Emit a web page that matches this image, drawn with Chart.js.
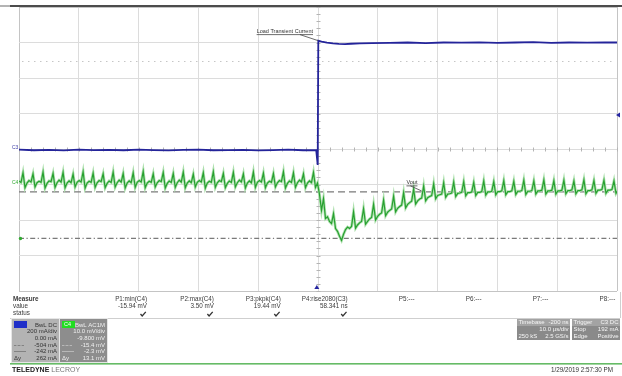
<!DOCTYPE html>
<html>
<head>
<meta charset="utf-8">
<script src="https://cdn.jsdelivr.net/npm/chart.js@4/dist/chart.umd.min.js"></script>
<style>
  html, body { margin: 0; padding: 0; background: #fff; overflow: hidden; }
  #wrap { width: 622px; height: 376px; position: relative; }
  canvas { display: block; }
</style>
</head>
<body>
<div id="wrap"><canvas id="scope" width="622" height="376"></canvas></div>
<script>
// ---- Channel C3: load current (mA) vs time (us) ----
const loadTimeUs = [-50, -47.5, -45, -42.5, -40, -37.5, -35, -32.5, -30, -27.5, -25, -22.5, -20, -17.5, -15, -12.5, -10, -7.5, -5, -2.5, -0.3, -0.05,
                    0.05, 0.6, 1.5, 2.5, 3.5, 4.5, 5.5, 7, 9, 12, 15, 18, 21, 24, 27, 30, 33, 36, 39, 42, 45, 48, 50];
const loadCurrentmA = [-4, -7, -5, -8, -3, -6, -5, -7, -4, -6, -8, -5, -4, -7, -6, -5, -8, -6, -4, -7, -6, -90,
                       610, 605, 599, 595, 592, 591, 593, 595, 597, 598, 600, 597, 600, 599, 601, 598, 600, 602, 598, 600, 599, 601, 600];

// ---- Channel C4: output voltage ripple (mV), one sample every SAMPLE_US, starting at -50 us ----
const SAMPLE_US = 0.335;
const vOutmV = [
   0.8,  0.4, 3.1, -1.1,  0.2,
   0.9,  0.5, 2.8, -0.9,  0.3,
   0.7,  0.4, 3.3, -1.2,  0.1,
   0.8,  0.6, 2.9, -1.0,  0.3,
   1.0,  0.5, 3.2, -1.1,  0.2,
   0.8,  0.3, 2.7, -0.9,  0.4,
   0.9,  0.5, 3.4, -1.2,  0.2,
   0.7,  0.4, 3.0, -1.0,  0.3,
   0.9,  0.6, 2.8, -1.1,  0.1,
   0.8,  0.4, 3.3, -0.9,  0.3,
   1.0,  0.5, 2.9, -1.2,  0.2,
   0.8,  0.3, 3.1, -1.0,  0.4,
   0.9,  0.5, 3.5, -1.1,  0.2,
   0.7,  0.4, 2.8, -0.9,  0.3,
   0.9,  0.6, 3.2, -1.2,  0.1,
   0.8,  0.4, 2.9, -1.0,  0.3,
   1.0,  0.5, 3.3, -1.1,  0.2,
   0.8,  0.3, 2.7, -0.9,  0.4,
   0.9,  0.5, 3.1, -1.2,  0.2,
   0.7,  0.4, 3.4, -1.0,  0.3,
   0.9,  0.6, 2.9, -1.1,  0.1,
   0.8,  0.4, 3.2, -0.9,  0.3,
   1.0,  0.5, 2.8, -1.2,  0.2,
   0.8,  0.3, 3.3, -1.0,  0.4,
   0.9,  0.5, 3.0, -1.1,  0.2,
   0.7,  0.4, 2.9, -0.9,  0.3,
   0.9,  0.6, 3.4, -1.2,  0.1,
   0.8,  0.4, 3.1, -1.0,  0.3,
   1.0,  0.5, 2.8, -1.1,  0.2,
   0.8,  0.3, 3.2, -1.0,  0.2,
  -3.0, -7.5, -4.2, -9.8, -9.3,
 -10.6, -11.2, -8.4, -12.6, -13.4,
 -14.8, -15.94, -14.2, -12.9, -12.2,
 -12.6, -12.0, -7.9, -12.5, -11.6,
 -11.0, -10.6, -7.0, -11.4, -10.6,
  -9.9, -9.5, -5.8, -10.2, -9.2,
  -8.6, -8.2, -4.6, -9.0, -8.0,
  -7.5, -7.1, -3.5, -7.9, -6.9,
  -6.4, -6.0, -2.5, -6.8, -5.8,
  -5.3, -4.9, -1.5, -5.7, -4.8,
  -4.3, -4.0, -0.6, -4.8, -3.9,
  -3.6, -3.3,  0.0, -4.2, -3.3,
  -3.1, -2.9,  0.3, -3.8, -2.9,
  -2.8, -2.6,  0.5, -3.6, -2.7,
  -2.6, -2.4,  0.6, -3.4, -2.5,
  -2.5, -2.3,  0.4, -3.3, -2.4,
  -2.4, -2.2,  0.8, -3.2, -2.3,
  -2.3, -2.1,  0.6, -3.1, -2.2,
  -2.2, -2.0,  0.9, -3.1, -2.2,
  -2.2, -2.0,  0.7, -3.0, -2.1,
  -2.1, -1.9,  1.0, -3.0, -2.1,
  -2.1, -1.9,  0.8, -2.9, -2.0,
  -2.0, -1.8,  1.1, -2.9, -2.0,
  -2.0, -1.8,  0.9, -2.9, -2.0,
  -2.0, -1.8,  1.0, -2.8, -1.9,
  -1.9, -1.7,  0.8, -2.8, -1.9,
  -1.9, -1.7,  1.1, -2.8, -1.9,
  -1.9, -1.7,  0.9, -2.7, -1.8,
  -1.8, -1.6,  1.0, -2.7, -1.8,
  -1.8, -1.6,  0.8, -2.7, -1.8
];
const vOutTimeUs = vOutmV.map((_, i) => -50 + i * SAMPLE_US);

// ---- Vertical settings ----
const C3_MA_PER_DIV = 200;
const C4_MV_PER_DIV = 10;
const C4_CENTER_MV = 9.8;         // screen centre of C4 (offset -9.800 mV)
const cursorLevelsmA = [-504, -242];
const triggerLevelmA = 192;
const triggerTimeUs = -0.2;
const refLevelmA = 496;

// ---- Measurement readouts ----
const measureLabels = ['P1:min(C4)', 'P2:max(C4)', 'P3:pkpk(C4)', 'P4:rise2080(C3)', 'P5:---', 'P6:---', 'P7:---', 'P8:---'];
const measureValues = ['-15.94 mV', '3.50 mV', '19.44 mV', '58.341 ns', '', '', '', ''];
const measureStatus = [true, true, true, true, false, false, false, false];
const c3Info = ['BwL DC', '200 mA/div', '0.00 mA', '-504 mA', '-242 mA', '262 mA'];
const c4Info = ['BwL AC1M', '10.0 mV/div', '-9.800 mV', '-15.4 mV', '-2.3 mV', '13.1 mV'];

const toXY = (xs, ys) => xs.map((t, i) => ({ x: t, y: ys[i] }));
const FONT = '"Liberation Sans", Arial, sans-serif';

function line(ctx, x1, y1, x2, y2) {
  ctx.beginPath(); ctx.moveTo(x1, y1); ctx.lineTo(x2, y2); ctx.stroke();
}
function check(ctx, cx, cy) {
  ctx.save();
  ctx.strokeStyle = '#333'; ctx.lineWidth = 1.3;
  ctx.beginPath(); ctx.moveTo(cx - 2.5, cy); ctx.lineTo(cx - 0.8, cy + 2); ctx.lineTo(cx + 2.8, cy - 2.2); ctx.stroke();
  ctx.restore();
}

const scopeOverlay = {
  id: 'scopeOverlay',
  beforeDatasetsDraw(chart) {
    const { ctx, chartArea: a, scales: { x, yI } } = chart;
    ctx.save();
    ctx.lineWidth = 1;
    // faint dotted reference level
    ctx.strokeStyle = '#c6c6c6';
    ctx.setLineDash([1.5, 4.5]);
    const yr = Math.round(yI.getPixelForValue(refLevelmA)) + 0.5;
    line(ctx, a.left + 3, yr, a.right - 3, yr);
    ctx.setLineDash([]);
    // minor ticks along the centre axes
    ctx.strokeStyle = '#b4b4b4';
    const y0 = Math.round(yI.getPixelForValue(0)) + 0.5;
    const x0 = Math.round(x.getPixelForValue(0)) + 0.5;
    for (let t = -50; t <= 50; t += 2) {
      const px = Math.round(x.getPixelForValue(t)) + 0.5;
      line(ctx, px, y0 - 2, px, y0 + 2);
    }
    for (let v = -800; v <= 800; v += 40) {
      const py = Math.round(yI.getPixelForValue(v)) + 0.5;
      line(ctx, x0 - 2, py, x0 + 2, py);
    }
    ctx.restore();
  },
  afterDraw(chart) {
    const { ctx, chartArea: a, scales: { x, yI, yV } } = chart;
    ctx.save();

    // top frame bar
    ctx.fillStyle = '#b4b4b4'; ctx.fillRect(0, 5, 10, 2);
    ctx.fillStyle = '#4c4c4c'; ctx.fillRect(10, 5, 612, 2);

    // channel ground markers
    ctx.font = '5px ' + FONT; ctx.textBaseline = 'middle'; ctx.textAlign = 'left';
    ctx.fillStyle = '#4040a8'; ctx.fillText('C3', 12, yI.getPixelForValue(0) - 1.5);
    ctx.fillStyle = '#32aa32'; ctx.fillText('C4', 12, yV.getPixelForValue(0) - 1.5);
    ctx.beginPath();
    ctx.arc(a.left + 1.5, yI.getPixelForValue(cursorLevelsmA[0]), 1.7, 0, Math.PI * 2);
    ctx.fillStyle = '#32aa32'; ctx.fill();

    // trigger level marker (right edge) and trigger position marker (bottom)
    ctx.fillStyle = '#2424a0';
    const ty = yI.getPixelForValue(triggerLevelmA);
    ctx.beginPath(); ctx.moveTo(a.right - 1, ty); ctx.lineTo(a.right + 3, ty - 2.5); ctx.lineTo(a.right + 3, ty + 2.5); ctx.closePath(); ctx.fill();
    const tx = x.getPixelForValue(triggerTimeUs);
    ctx.beginPath(); ctx.moveTo(tx, a.bottom - 6); ctx.lineTo(tx - 2.5, a.bottom - 2); ctx.lineTo(tx + 2.5, a.bottom - 2); ctx.closePath(); ctx.fill();

    // trace annotations
    function annotate(text, targetX, targetY, dx, dy, leaderFrom) {
      ctx.font = '5.5px ' + FONT; ctx.textAlign = 'right'; ctx.textBaseline = 'alphabetic';
      const w = ctx.measureText(text).width;
      const right = targetX + dx, base = targetY + dy;
      ctx.fillStyle = '#333'; ctx.fillText(text, right, base);
      ctx.strokeStyle = '#444'; ctx.lineWidth = 0.8;
      line(ctx, right - w, base + 2, right, base + 2);
      line(ctx, right - leaderFrom, base + 2, targetX, targetY);
    }
    annotate('Load Transient Current', x.getPixelForValue(0), yI.getPixelForValue(loadCurrentmA[23]) - 1, -5, -8, 13);
    annotate('Vout', x.getPixelForValue(17.3), yV.getPixelForValue(-2.0), -4, -7, 7);

    // measurement table
    ctx.fillStyle = '#3a3a3a'; ctx.textBaseline = 'middle';
    ctx.textAlign = 'left';
    ctx.font = 'bold 6.3px ' + FONT; ctx.fillText('Measure', 13, 299);
    ctx.font = '6.3px ' + FONT;
    ctx.fillText('value', 13, 306.5); ctx.fillText('status', 13, 313.5);
    ctx.textAlign = 'right';
    measureLabels.forEach((lab, i) => {
      const rx = 147 + i * 66.9;
      ctx.fillText(lab, rx, 299);
      if (measureValues[i]) ctx.fillText(measureValues[i], rx, 306.5);
      if (measureStatus[i]) check(ctx, rx - 4, 314);
    });
    ctx.strokeStyle = '#cfcfcf'; ctx.lineWidth = 1;
    line(ctx, 10, 318.5, 620, 318.5);
    line(ctx, 620.5, 292, 620.5, 318);

    // channel descriptor boxes
    function chanBox(x0, bg, fg, swatch, swatchText, info) {
      ctx.fillStyle = '#e6e6e6'; ctx.fillRect(x0 - 1, 318, 49, 45);
      ctx.fillStyle = bg; ctx.fillRect(x0, 319, 47, 43);
      ctx.fillStyle = swatch; ctx.fillRect(x0 + 2, 321, 13, 7);
      if (swatchText) {
        ctx.fillStyle = '#ffffff'; ctx.font = '5.5px ' + FONT; ctx.textAlign = 'left';
        ctx.fillText(swatchText, x0 + 4, 324.7);
      }
      ctx.fillStyle = fg; ctx.font = '6px ' + FONT; ctx.textAlign = 'right';
      info.forEach((s, i) => ctx.fillText(s, x0 + 45, 325 + i * 6.7));
      ctx.textAlign = 'left';
      ctx.fillText('-·-·-', x0 + 2, 345);
      ctx.fillText('——', x0 + 2, 351.7);
      ctx.fillText('Δy', x0 + 2, 358.4);
    }
    chanBox(12, '#b3b3b3', '#333', '#1f2fc8', '', c3Info);
    chanBox(60, '#8d8d8d', '#f0f0f0', '#22dd22', 'C4', c4Info);

    // timebase and trigger boxes
    function infoBox(x0, w, rows) {
      ctx.fillStyle = '#8a8a8a'; ctx.fillRect(x0, 319, w, 21);
      ctx.fillStyle = '#a3a3a3'; ctx.fillRect(x0, 319, w, 7);
      ctx.fillStyle = '#f6f6f6'; ctx.font = '6px ' + FONT;
      rows.forEach((r, i) => {
        const yy = 322.7 + i * 6.8;
        ctx.textAlign = 'left'; ctx.fillText(r[0], x0 + 1.5, yy);
        ctx.textAlign = 'right'; ctx.fillText(r[1], x0 + w - 1.5, yy);
      });
    }
    infoBox(517, 53, [['Timebase', '-200 ns'], ['', '10.0 µs/div'], ['250 kS', '2.5 GS/s']]);
    infoBox(572, 48, [['Trigger', 'C3 DC'], ['Stop', '192 mA'], ['Edge', 'Positive']]);

    // footer
    ctx.fillStyle = '#66bb66'; ctx.fillRect(10, 363, 612, 1.6);
    ctx.textAlign = 'left'; ctx.textBaseline = 'middle';
    ctx.font = 'bold 7px ' + FONT; ctx.fillStyle = '#222';
    ctx.fillText('TELEDYNE', 12, 370);
    const tw = ctx.measureText('TELEDYNE ').width;
    ctx.font = '7px ' + FONT; ctx.fillStyle = '#777';
    ctx.fillText('LECROY', 12 + tw, 370);
    ctx.textAlign = 'right'; ctx.fillStyle = '#333'; ctx.font = '6.3px ' + FONT;
    ctx.fillText('1/29/2019 2:57:30 PM', 613, 370.5);

    ctx.restore();
  }
};

const gridColor = ctx => (ctx.index === 0 || ctx.index === ctx.chart.scales[ctx.scale.id].ticks.length - 1) ? '#c4c4c4' : '#dcdcdc';

new Chart(document.getElementById('scope'), {
  type: 'line',
  data: {
    datasets: [
      {
        label: 'C3 load current', yAxisID: 'yI', order: 0,
        data: toXY(loadTimeUs, loadCurrentmA),
        borderColor: '#24249a', borderWidth: 1.8, pointRadius: 0, tension: 0
      },
      {
        label: 'C4 Vout', yAxisID: 'yV', order: 1,
        data: toXY(vOutTimeUs, vOutmV),
        borderColor: '#27a030', borderWidth: 1.2, pointRadius: 0, tension: 0
      },
      {
        label: 'C4 Vout halo', yAxisID: 'yV', order: 2,
        data: toXY(vOutTimeUs, vOutmV),
        borderColor: '#aee0ae', borderWidth: 2.8, pointRadius: 0, tension: 0
      },
      {
        label: 'Cursor A', yAxisID: 'yI', order: 5,
        data: [{ x: -50, y: cursorLevelsmA[0] }, { x: 50, y: cursorLevelsmA[0] }],
        borderColor: '#7a7a7a', borderWidth: 1.2, borderDash: [5, 2.5, 1.2, 2.5], pointRadius: 0
      },
      {
        label: 'Cursor B', yAxisID: 'yI', order: 5,
        data: [{ x: -50, y: cursorLevelsmA[1] }, { x: 50, y: cursorLevelsmA[1] }],
        borderColor: '#7a7a7a', borderWidth: 1.3, borderDash: [7, 4], pointRadius: 0
      }
    ]
  },
  options: {
    responsive: false,
    animation: false,
    devicePixelRatio: 1,
    layout: { padding: { left: 19, right: 5, top: 7, bottom: 85 } },
    plugins: { legend: { display: false }, tooltip: { enabled: false } },
    scales: {
      x: {
        type: 'linear', min: -50, max: 50,
        ticks: { display: false, stepSize: 10 },
        grid: { color: gridColor, drawTicks: false, tickLength: 0 },
        border: { display: false }
      },
      yI: {
        type: 'linear', position: 'left',
        min: -4 * C3_MA_PER_DIV, max: 4 * C3_MA_PER_DIV,
        ticks: { display: false, stepSize: C3_MA_PER_DIV },
        grid: { color: gridColor, drawTicks: false, tickLength: 0 },
        border: { display: false }
      },
      yV: {
        type: 'linear', display: false,
        min: C4_CENTER_MV - 4 * C4_MV_PER_DIV, max: C4_CENTER_MV + 4 * C4_MV_PER_DIV
      }
    }
  },
  plugins: [scopeOverlay]
});
</script>
</body>
</html>
